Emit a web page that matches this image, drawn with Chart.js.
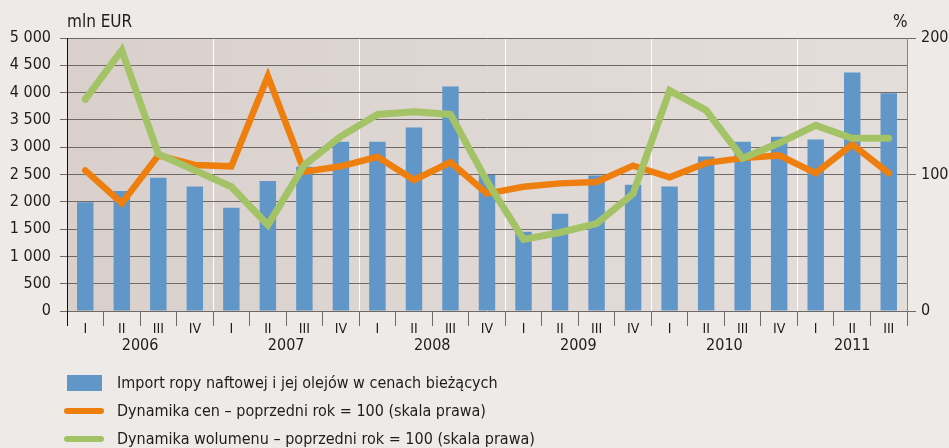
<!DOCTYPE html>
<html>
<head>
<meta charset="utf-8">
<script src="https://cdn.jsdelivr.net/npm/chart.js@4"></script>
<style>
  body { margin: 0; background: #eeeae7; }
  .wrap { position: relative; width: 949px; height: 448px; font-family: 'Liberation Sans Narrow', 'DejaVu Sans Condensed', sans-serif; color: #1d1d1b; }
  .unit { position: absolute; top: 10px; font-size: 17px; line-height: 22px; }
  .legend { position: absolute; left: 0; top: 0; }
  .item { position: absolute; left: 117px; font-size: 16px; line-height: 24px; white-space: nowrap; }
  .box { position: absolute; left: 67px; width: 35px; height: 16px; }
  .swatch { position: absolute; left: 64px; width: 40px; height: 6px; border-radius: 3px; }
</style>
</head>
<body>
<div class="wrap">
  <canvas id="chart" width="949" height="448"></canvas>
  <span class="unit" style="left:67px">mln EUR</span>
  <span class="unit" style="left:893px">%</span>
  <div class="legend">
    <div class="box" style="top:375px; background:#6096c8"></div>
    <div class="item" style="top:371px">Import ropy naftowej i jej olejów w cenach bieżących</div>
    <div class="swatch" style="top:408px; background:#ee7f0e"></div>
    <div class="item" style="top:399px">Dynamika cen – poprzedni rok = 100 (skala prawa)</div>
    <div class="swatch" style="top:436px; background:#a3c366"></div>
    <div class="item" style="top:427px">Dynamika wolumenu – poprzedni rok = 100 (skala prawa)</div>
  </div>
</div>
<script>
  const quarters = ['I', 'II', 'III', 'IV', 'I', 'II', 'III', 'IV', 'I', 'II', 'III', 'IV',
    'I', 'II', 'III', 'IV', 'I', 'II', 'III', 'IV', 'I', 'II', 'III'];
  const years = ['2006', '2007', '2008', '2009', '2010', '2011'];
  const yearQuarters = [4, 4, 4, 4, 4, 3];

  // mln EUR (left scale)
  const importValue = [1990, 2200, 2440, 2280, 1890, 2380, 2640, 3100, 3100, 3360, 4110, 2490,
    1450, 1780, 2480, 2310, 2280, 2830, 3100, 3190, 3140, 4370, 3990];
  // % (right scale)
  const priceIndex = [103, 79, 114, 107, 106, 172, 102, 106, 113, 96, 109, 86,
    91, 93.5, 94.5, 106.5, 98, 108.5, 112, 114, 101, 122, 101];
  const volumeIndex = [155, 191, 115, 103, 91, 63, 107, 128, 144, 146, 144, 95,
    52.5, 57.5, 64, 86, 161.5, 147, 112, 123, 136, 126.5, 126.5];

  const leftTicks = ['0', '500', '1 000', '1 500', '2 000', '2 500', '3 000', '3 500', '4 000', '4 500', '5 000'];
  const rightTicks = ['0', '100', '200'];

  const FONT = "'Liberation Sans Narrow', 'DejaVu Sans Condensed', sans-serif";
  const TEXT = '#1d1d1b';
  const GRID = '#6f6a68';

  const areaBackground = {
    id: 'areaBackground',
    beforeDraw(chart) {
      const { ctx, chartArea: a } = chart;
      const g = ctx.createLinearGradient(a.left, 0, a.right, 0);
      g.addColorStop(0, '#d9d0cc');
      g.addColorStop(1, '#e4dedb');
      ctx.save();
      ctx.fillStyle = g;
      ctx.fillRect(a.left, a.top, a.right - a.left, a.bottom - a.top);
      ctx.restore();
    }
  };

  const yearLabels = {
    id: 'yearLabels',
    afterDraw(chart) {
      const { ctx } = chart;
      const x = chart.scales.x;
      ctx.save();
      ctx.font = '16px ' + FONT;
      ctx.fillStyle = TEXT;
      ctx.textAlign = 'center';
      ctx.textBaseline = 'middle';
      let start = 0;
      years.forEach((y, i) => {
        const end = start + yearQuarters[i] - 1;
        const cx = (x.getPixelForValue(start) + x.getPixelForValue(end)) / 2;
        ctx.fillText(y, cx, x.bottom - 102);
        start = end + 1;
      });
      ctx.restore();
    }
  };

  new Chart(document.getElementById('chart'), {
    type: 'bar',
    data: {
      labels: quarters,
      datasets: [
        {
          label: 'Dynamika wolumenu – poprzedni rok = 100 (skala prawa)',
          type: 'line',
          data: volumeIndex,
          yAxisID: 'y1',
          borderColor: '#a3c366',
          borderWidth: 7,
          borderCapStyle: 'round',
          borderJoinStyle: 'miter',
          pointRadius: 0,
          tension: 0,
          order: 0
        },
        {
          label: 'Dynamika cen – poprzedni rok = 100 (skala prawa)',
          type: 'line',
          data: priceIndex,
          yAxisID: 'y1',
          borderColor: '#ee7f0e',
          borderWidth: 6.5,
          borderCapStyle: 'round',
          borderJoinStyle: 'miter',
          pointRadius: 0,
          tension: 0,
          order: 1
        },
        {
          label: 'Import ropy naftowej i jej olejów w cenach bieżących',
          data: importValue,
          yAxisID: 'y',
          backgroundColor: '#6096c8',
          categoryPercentage: 1,
          barPercentage: 0.45,
          order: 2
        }
      ]
    },
    options: {
      responsive: false,
      devicePixelRatio: 1,
      animation: false,
      layout: { padding: { top: 38, left: 0, right: 0, bottom: 0 } },
      plugins: { legend: { display: false }, tooltip: { enabled: false } },
      scales: {
        x: {
          afterFit: (s) => { s.height = 137; },
          grid: {
            offset: true,
            drawOnChartArea: true,
            color: (c) => (c.index > 0 && c.index % 4 === 0 && c.index < quarters.length) ? '#ffffff' : 'rgba(0,0,0,0)',
            tickColor: (c) => c.index === 0 ? '#111111' : GRID,
            tickLength: 15,
            lineWidth: 1
          },
          border: { display: false },
          ticks: { padding: -5, color: TEXT, font: { family: FONT, size: 14 }, maxRotation: 0, autoSkip: false }
        },
        y: {
          position: 'left',
          min: 0,
          max: 5000,
          afterFit: (s) => { s.width = 67; },
          ticks: { stepSize: 500, padding: 9, color: TEXT, font: { family: FONT, size: 16 }, callback: (v, i) => leftTicks[i] },
          grid: { color: GRID, tickColor: GRID, tickLength: 7, lineWidth: 1 },
          border: { color: '#111111', width: 1 }
        },
        y1: {
          position: 'right',
          min: 0,
          max: 200,
          afterFit: (s) => { s.width = 42; },
          ticks: { stepSize: 100, padding: 5, color: TEXT, font: { family: FONT, size: 16 }, callback: (v, i) => rightTicks[i] },
          grid: { drawOnChartArea: false, color: GRID, tickColor: GRID, tickLength: 9 },
          border: { color: '#8a8482', width: 1 }
        }
      }
    },
    plugins: [areaBackground, yearLabels]
  });
</script>
</body>
</html>
